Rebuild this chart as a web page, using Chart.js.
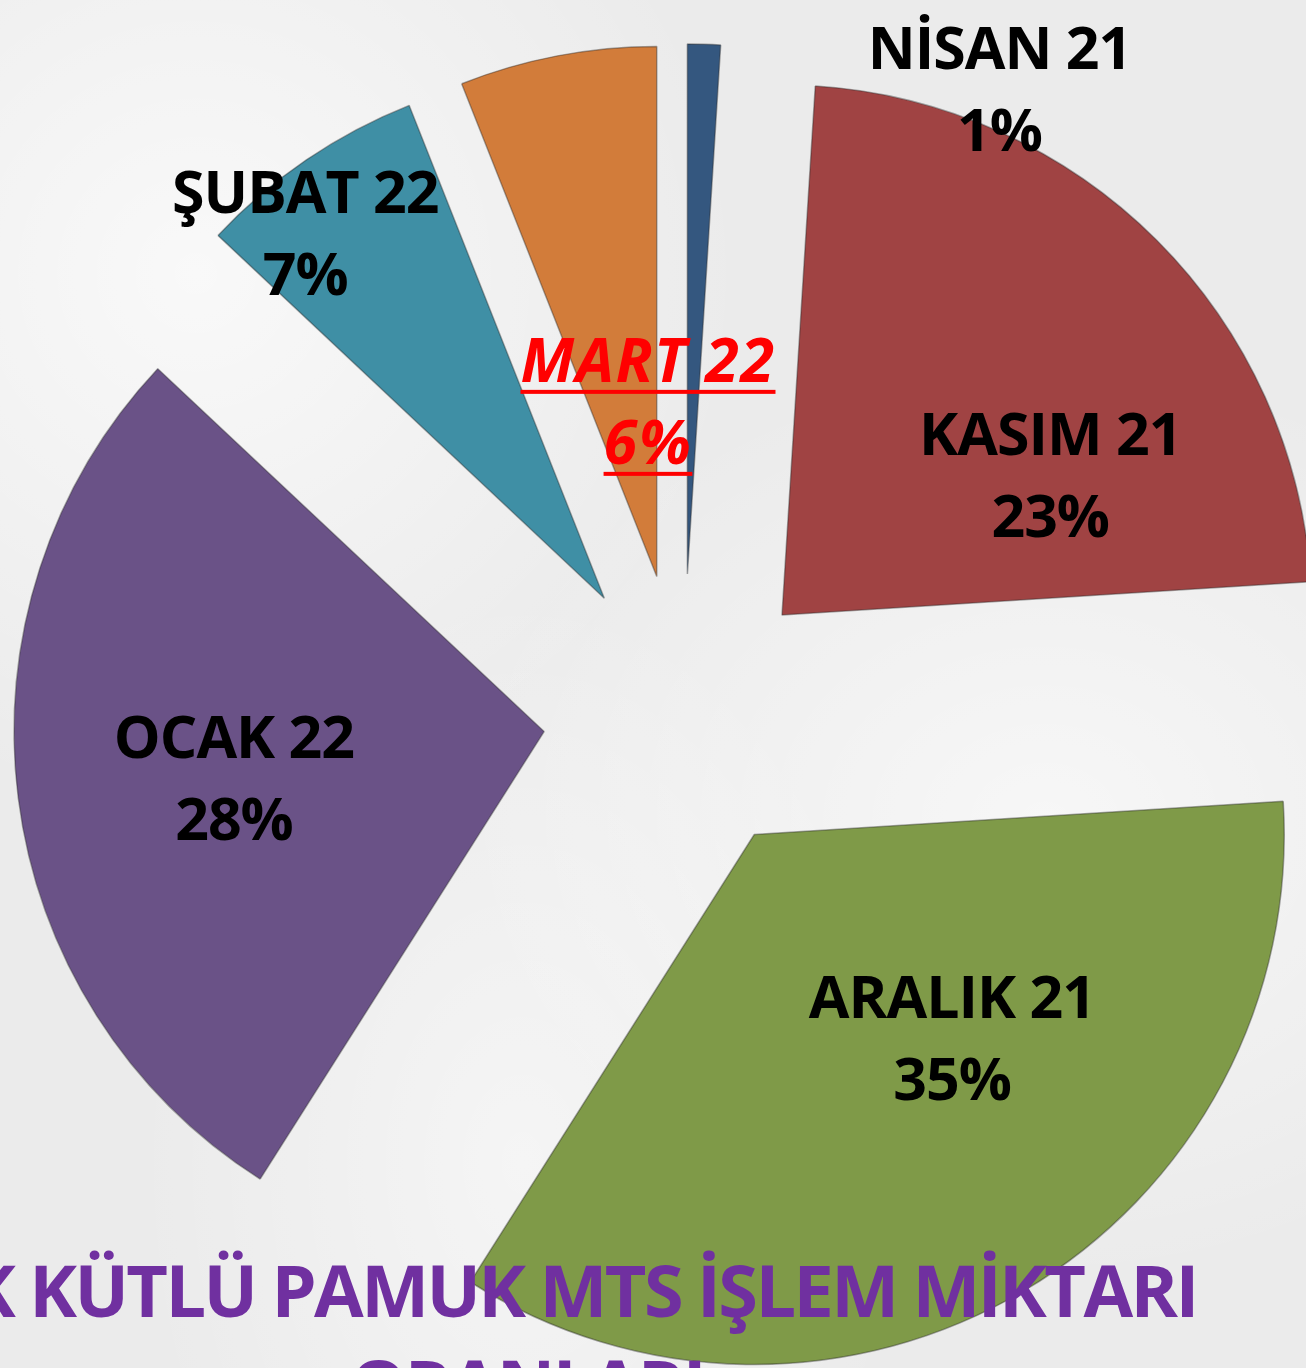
<!DOCTYPE html>
<html lang="tr">
<head>
<meta charset="UTF-8">
<title>Kütlü Pamuk MTS İşlem Miktarı Oranları</title>
<style>
  html, body { margin: 0; padding: 0; overflow: hidden; }
  body {
    width: 1306px;
    height: 1368px;
    position: relative;
    font-family: "Open Sans", "Noto Sans", sans-serif;
    background-color: #ebebeb;
    background-image:
      radial-gradient(ellipse at 15% 20%, rgba(255,255,255,0.7), transparent 35%),
      radial-gradient(ellipse at 80% 60%, rgba(255,255,255,0.6), transparent 40%),
      radial-gradient(ellipse at 40% 85%, rgba(255,255,255,0.5), transparent 35%);
  }
  #chart-box { position: absolute; left: 0; top: 0; width: 1306px; height: 1368px; }
  .title-line {
    position: absolute;
    white-space: nowrap;
    color: #7030a0;
    font-weight: 700;
    font-size: 72px;
    letter-spacing: -2.6px;
    line-height: 1;
  }
  #title1 { left: -32px; top: 1253px; }
  #title2 { left: 350px; top: 1348px; }
</style>
</head>
<body>
  <div id="chart-box"><canvas id="pie"></canvas></div>
  <div class="title-line" id="title1">K KÜTLÜ PAMUK MTS İŞLEM MİKTARI</div>
  <div class="title-line" id="title2">ORANLARI</div>

  <script src="https://cdn.jsdelivr.net/npm/chart.js"></script>
  <script>
    // monthly share of trades
    const categories = ['NİSAN 21', 'KASIM 21', 'ARALIK 21', 'OCAK 22', 'ŞUBAT 22', 'MART 22'];
    const shares = [1, 23, 35, 28, 7, 6];
    const sliceColors = ['#34577f', '#a04343', '#7f9a48', '#6a5287', '#3f8fa5', '#d27c3a'];

    // label placement relative to each slice: fraction of radius, turn from bisector (deg)
    const labelDist = [1.087, 0.570, 0.537, 0.592, 0.889, 0.328];
    const labelTurn = [31.0, 17.6, -13.4, -1.5, -5.2, 7.9];
    const highlighted = 'MART 22';

    const EXPLODE = 140;
    const LABEL_FONT = '"Open Sans", "Noto Sans", sans-serif';

    // push every slice outward along its bisector
    const explodePlugin = {
      id: 'explode',
      afterDatasetUpdate(chart, args) {
        args.meta.data.forEach(arc => {
          const mid = (arc.startAngle + arc.endAngle) / 2;
          arc.x += Math.cos(mid) * EXPLODE;
          arc.y += Math.sin(mid) * EXPLODE;
        });
      }
    };

    // name + percentage on two lines
    const sliceLabels = {
      id: 'sliceLabels',
      afterDatasetsDraw(chart) {
        const ctx = chart.ctx;
        const meta = chart.getDatasetMeta(0);
        const total = shares.reduce((a, b) => a + b, 0);
        meta.data.forEach((arc, i) => {
          const a = (arc.startAngle + arc.endAngle) / 2 + labelTurn[i] * Math.PI / 180;
          const r = arc.outerRadius * labelDist[i];
          const x = arc.x + Math.cos(a) * r;
          const y = arc.y + Math.sin(a) * r;
          const lines = [categories[i], Math.round(shares[i] / total * 100) + '%'];
          const special = categories[i] === highlighted;

          ctx.save();
          ctx.font = (special ? 'italic 700 61px ' : '700 59px ') + LABEL_FONT;
          if ('letterSpacing' in ctx) ctx.letterSpacing = special ? '1.5px' : '-1px';
          ctx.textAlign = 'center';
          ctx.textBaseline = 'alphabetic';
          ctx.fillStyle = special ? '#ff0000' : '#000000';
          const baselines = [y - 21, y + 61];
          lines.forEach((txt, k) => {
            ctx.fillText(txt, x, baselines[k]);
            if (special) {
              const w = ctx.measureText(txt).width;
              ctx.fillRect(x - w / 2, baselines[k] + 8, w, 4);
            }
          });
          ctx.restore();
        });
      }
    };

    new Chart(document.getElementById('pie'), {
      type: 'pie',
      data: {
        labels: categories,
        datasets: [{
          data: shares,
          backgroundColor: sliceColors,
          borderColor: 'rgba(40,40,40,0.4)',
          borderWidth: 1.5,
          radius: 530,
          clip: false
        }]
      },
      options: {
        responsive: true,
        maintainAspectRatio: false,
        animation: false,
        layout: { padding: { left: 60, top: 60, right: 0, bottom: 0 } },
        plugins: {
          legend: { display: false },
          tooltip: { enabled: false }
        }
      },
      plugins: [explodePlugin, sliceLabels]
    });
  </script>
</body>
</html>
